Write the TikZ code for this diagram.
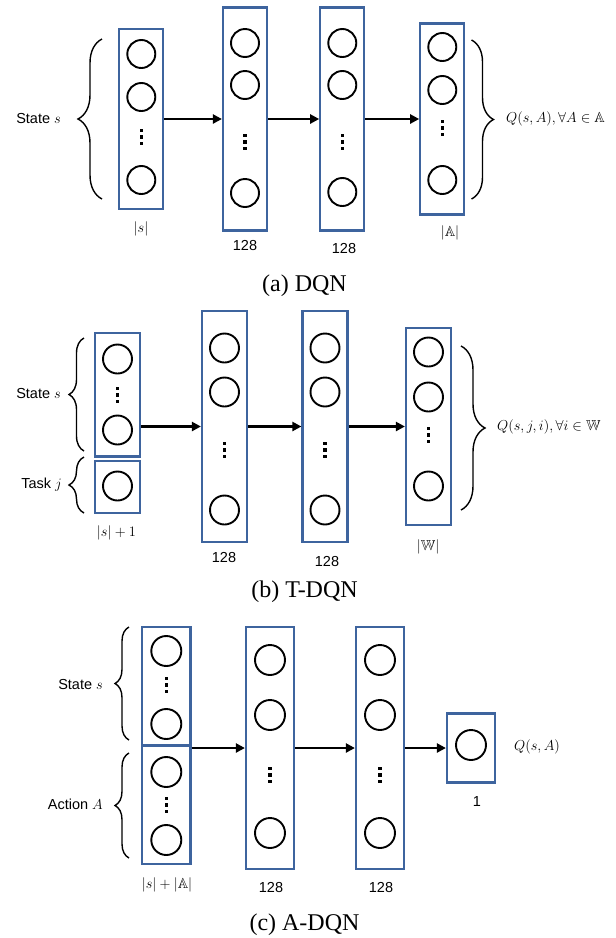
\documentclass[tikz,border=0pt]{standalone}
\usepackage{amssymb}
\usepackage{fontspec}
\setmainfont{Liberation Serif}
\setsansfont{Liberation Sans}
\usetikzlibrary{arrows.meta,decorations.pathreplacing}
\definecolor{layerblue}{RGB}{62,100,158}
\tikzset{
  layer/.style={draw=layerblue, line width=2.2pt, inner sep=0pt, minimum width=44pt},
  neuron/.style={draw=black, circle, line width=1.9pt, inner sep=0pt, minimum size=#1},
  neuron/.default=28pt,
  dotcol/.style={inner sep=0pt, minimum width=4pt, minimum height=18pt,
    path picture={\foreach \k in {-1,0,1}{\fill ([xshift=-1.8pt,yshift=\k*6.5pt-1.8pt]path picture bounding box.center) rectangle ++(3.6pt,3.6pt);}}},
  flow/.style={line width=2.6pt, -{Triangle[length=9pt,width=9pt]}},
  bracestyle/.style={decorate, decoration={brace, amplitude=#1}, line width=1.4pt},
  lab/.style={font=\sffamily\fontsize{14.5}{16}\selectfont, inner sep=0pt},
  mlab/.style={font=\fontsize{14.5}{16}\selectfont, inner sep=0pt},
  captext/.style={font=\fontsize{24}{28}\selectfont, inner sep=0pt}
}
\begin{document}
\begin{tikzpicture}[x=1pt, y=-1pt]
\useasboundingbox (0,0) rectangle (616,938);

% ================= (a) DQN =================
\node[layer, minimum height=180pt] (a1) at (141.3,119) {};
\node[layer, minimum height=223pt] (a2) at (245,119) {};
\node[layer, minimum height=223pt] (a3) at (342.3,119) {};
\node[layer, minimum height=191pt] (a4) at (442.3,119) {};

\node[neuron] (a1n1) at (141.3,54) {};
\node[neuron] (a1n2) at (141.3,97) {};
\node[dotcol] (a1d) at (141.3,137) {};
\node[neuron] (a1n3) at (141.3,180) {};

\node[neuron] (a2n1) at (245,43) {};
\node[neuron] (a2n2) at (245,85) {};
\node[dotcol] (a2d) at (245,142) {};
\node[neuron] (a2n3) at (245,193) {};

\node[neuron] (a3n1) at (342.3,43) {};
\node[neuron] (a3n2) at (342.3,85) {};
\node[dotcol] (a3d) at (342.3,142) {};
\node[neuron] (a3n3) at (342.3,192) {};

\node[neuron] (a4n1) at (442.3,47) {};
\node[neuron] (a4n2) at (442.3,90) {};
\node[dotcol] (a4d) at (442.3,128) {};
\node[neuron] (a4n3) at (442.3,180) {};

\draw[flow] (a1) -- (a2);
\draw[flow] (a2) -- (a3);
\draw[flow] (a3) -- (a4);

\coordinate (abt) at (102,39);
\coordinate (abb) at (102,199);
\draw[bracestyle=24pt] (abb) -- (abt);
\coordinate (arbt) at (471.5,40);
\coordinate (arbb) at (471.5,199);
\draw[bracestyle=22pt] (arbt) -- (arbb);

\node[lab, anchor=east] (astate) at (61,119) {State $s$};
\node[mlab, anchor=west] (aq) at (506,119) {$Q(s,A),\forall A\in\mathbb{A}$};
\node[mlab] (al1) at (141,229) {$|s|$};
\node[lab] (al2) at (245,246) {128};
\node[lab] (al3) at (344,249) {128};
\node[mlab] (al4) at (450,233) {$|\mathbb{A}|$};
\node[captext] (acap) at (304.5,286) {(a) DQN};

% ================= (b) T-DQN =================
\node[layer, minimum width=45pt, minimum height=123.5pt] (b1u) at (117.5,394.75) {};
\node[layer, minimum width=45pt, minimum height=52pt] (b1l) at (117.5,487) {};
\node[layer, minimum width=45pt, minimum height=231pt] (b2) at (224.5,426.5) {};
\node[layer, minimum width=45pt, minimum height=231pt] (b3) at (325,426.5) {};
\node[layer, minimum width=45pt, minimum height=197pt] (b4) at (428.5,426.5) {};

\node[neuron=29pt] (b1n1) at (117.5,359) {};
\node[dotcol] (b1d) at (117.5,395) {};
\node[neuron=29pt] (b1n2) at (117.5,430) {};
\node[neuron=29pt] (b1n3) at (117.5,486) {};

\node[neuron=29pt] (b2n1) at (224.5,348) {};
\node[neuron=29pt] (b2n2) at (224.5,392) {};
\node[dotcol] (b2d) at (224.5,450) {};
\node[neuron=29pt] (b2n3) at (224.5,510) {};

\node[neuron=29pt] (b3n1) at (325,348) {};
\node[neuron=29pt] (b3n2) at (325,392) {};
\node[dotcol] (b3d) at (325,450) {};
\node[neuron=29pt] (b3n3) at (325,510) {};

\node[neuron=29pt] (b4n1) at (428.5,352) {};
\node[neuron=29pt] (b4n2) at (428.5,397) {};
\node[dotcol] (b4d) at (428.5,435) {};
\node[neuron=29pt] (b4n3) at (428.5,486) {};

\draw[flow] (b2.west -| b1u.east) -- (b2.west);
\draw[flow] (b2) -- (b3);
\draw[flow] (b3) -- (b4);

\coordinate (bsbt) at (84,338);
\coordinate (bsbb) at (84,451);
\draw[bracestyle=15pt] (bsbb) -- (bsbt);
\coordinate (btbt) at (84,457);
\coordinate (btbb) at (84,513);
\draw[bracestyle=15pt] (btbb) -- (btbt);
\coordinate (brbt) at (461,346);
\coordinate (brbb) at (461,510);
\draw[bracestyle=24pt] (brbt) -- (brbb);

\node[lab, anchor=east] (bstate) at (61,394) {State $s$};
\node[lab, anchor=east] (btask) at (62,485) {Task $j$};
\node[mlab, anchor=west] (bq) at (497,427) {$Q(s,j,i),\forall i\in\mathbb{W}$};
\node[mlab] (bl1) at (116.5,533) {$|s|+1$};
\node[lab] (bl2) at (224,558) {128};
\node[lab] (bl3) at (327,562) {128};
\node[mlab] (bl4) at (428,547) {$|\mathbb{W}|$};
\node[captext] (bcap) at (304.5,592) {(b) T-DQN};

% ================= (c) A-DQN =================
\node[layer, minimum width=48.5pt, minimum height=118.5pt] (c1u) at (166.3,686.25) {};
\node[layer, minimum width=48.5pt, minimum height=118.5pt] (c1l) at (166.3,804.75) {};
\node[layer, minimum width=48pt, minimum height=242pt] (c2) at (270,748) {};
\node[layer, minimum width=48pt, minimum height=242pt] (c3) at (380,748) {};
\node[layer, minimum width=48pt, minimum height=69pt] (c4) at (471,748) {};

\node[neuron=30pt] (c1n1) at (166.3,651) {};
\node[dotcol] (c1d1) at (166.3,685) {};
\node[neuron=30pt] (c1n2) at (166.3,724) {};
\node[neuron=30pt] (c1n3) at (166.3,772) {};
\node[dotcol] (c1d2) at (166.3,805) {};
\node[neuron=30pt] (c1n4) at (166.3,840) {};

\node[neuron=30pt] (c2n1) at (270,660) {};
\node[neuron=30pt] (c2n2) at (270,715) {};
\node[dotcol] (c2d) at (270,775) {};
\node[neuron=30pt] (c2n3) at (270,833) {};

\node[neuron=30pt] (c3n1) at (380,660) {};
\node[neuron=30pt] (c3n2) at (380,715) {};
\node[dotcol] (c3d) at (380,775) {};
\node[neuron=30pt] (c3n3) at (380,833) {};

\node[neuron=30pt] (c4n1) at (471,745) {};

\draw[flow] (c2.west -| c1u.east) -- (c2.west);
\draw[flow] (c2) -- (c3);
\draw[flow] (c3) -- (c4);

\coordinate (csbt) at (129,627);
\coordinate (csbb) at (129,740);
\draw[bracestyle=14pt] (csbb) -- (csbt);
\coordinate (cabt) at (129,753);
\coordinate (cabb) at (129,858);
\draw[bracestyle=14pt] (cabb) -- (cabt);

\node[lab, anchor=east] (cstate) at (103,684) {State $s$};
\node[lab, anchor=east] (caction) at (103,804) {Action $A$};
\node[mlab, anchor=west] (cq) at (514,747) {$Q(s,A)$};
\node[lab] (cl4) at (477,802) {1};
\node[mlab] (cl1) at (167,885) {$|s|+|\mathbb{A}|$};
\node[lab] (cl2) at (271,887) {128};
\node[lab] (cl3) at (381,887) {128};
\node[captext] (ccap) at (304.5,925) {(c) A-DQN};
\end{tikzpicture}
\end{document}
